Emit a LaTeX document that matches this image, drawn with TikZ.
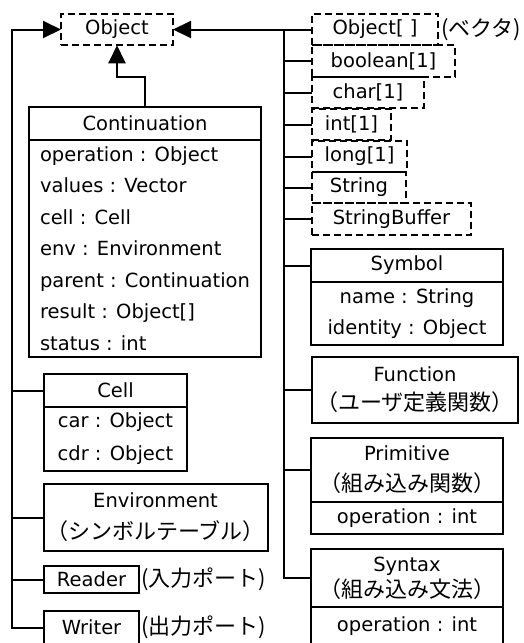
\documentclass[tikz,border=0pt]{standalone}
\usepackage{fontspec}
\setmainfont{DejaVu Sans}
\newfontfamily\jpfont{Noto Sans CJK JP}
\usetikzlibrary{arrows.meta,positioning}
\newcommand{\jp}[1]{{\jpfont\fontsize{22pt}{26pt}\selectfont #1}}

\begin{document}
\begin{tikzpicture}[x=1pt, y=-1pt,
    every node/.style={font=\fontsize{19.5pt}{31.5pt}\selectfont, inner sep=0pt, outer sep=0pt},
    box/.style={draw, line width=2pt, align=center},
    vecbox/.style={draw, dash pattern=on 7pt off 4pt, line width=2pt, minimum height=31.5pt, anchor=west},
    bus/.style={line width=2pt},
    arrow/.style={line width=2pt, -{Triangle[length=18pt, width=17pt]}}]

    \useasboundingbox (0,0) rectangle (524,643);
    \clip (0,0) rectangle (524,643);

    % Root
    \node[vecbox, anchor=center, minimum width=112pt] (obj) at (117,29.5) {Object};

    % Continuation
    \node[box, minimum width=232pt, minimum height=33pt] (cont) at (145,123.5) {Continuation};
    \node[box, below=0pt of cont, align=left, minimum width=232pt, minimum height=217pt] (conta)
        {operation : Object\\ values : Vector\\ cell : Cell\\ env : Environment\\
         parent : Continuation\\ result : Object[]\\ status : int};

    % Left column
    \node[box, minimum width=143pt, minimum height=33pt] (cell) at (115.5,390.5) {Cell};
    \node[box, below=0pt of cell, minimum width=143pt, minimum height=64pt,
        font=\fontsize{19.5pt}{33pt}\selectfont] (cella) {car : Object\\ cdr : Object};
    \node[box, minimum width=224pt, minimum height=67pt, font=\fontsize{19.5pt}{32pt}\selectfont]
        (env) at (155.5,517.5) {Environment\\ \jp{（シンボルテーブル）}};
    \node[box, minimum width=95pt, minimum height=27pt] (rd) at (91.5,579.5) {Reader};
    \node[right=2pt of rd] (rdnote) {\jp{(入力ポート)}};
    \node[box, minimum width=95pt, minimum height=33pt] (wr) at (91.5,627.5) {Writer};
    \node[right=2pt of wr] (wrnote) {\jp{(出力ポート)}};

    % Vectors and strings
    \node[vecbox, minimum width=126pt] (arr) at (312,29.5) {Object[ ]};
    \node[right=3pt of arr] (arrnote) {\jp{(ベクタ)}};
    \node[vecbox, minimum width=143pt] (bool) at (312,61) {boolean[1]};
    \node[vecbox, minimum width=112pt] (chr) at (312,92.5) {char[1]};
    \node[vecbox, minimum width=79pt] (vint) at (312,124.5) {int[1]};
    \node[vecbox, minimum width=95pt] (lng) at (312,156.5) {long[1]};
    \node[vecbox, minimum width=94pt] (str) at (312,187.5) {String};
    \node[vecbox, minimum width=159pt] (sbuf) at (312,219) {StringBuffer};

    % Right column
    \node[box, minimum width=192pt, minimum height=33pt] (sym) at (407,265.5) {Symbol};
    \node[box, below=0pt of sym, minimum width=192pt, minimum height=63pt] (syma)
        {name : String\\ identity : Object};
    \node[box, minimum width=206pt, minimum height=66pt, font=\fontsize{19.5pt}{29pt}\selectfont]
        (fun) at (415,390) {Function\\ \jp{（ユーザ定義関数）}};
    \node[box, minimum width=192pt, minimum height=64pt, font=\fontsize{19.5pt}{31pt}\selectfont]
        (prim) at (407,470) {Primitive\\ \jp{（組み込み関数）}};
    \node[box, below=0pt of prim, minimum width=192pt, minimum height=32pt] (prima) {operation : int};
    \node[box, minimum width=192pt, minimum height=58pt, font=\fontsize{19.5pt}{26pt}\selectfont]
        (syn) at (407,578) {Syntax\\ \jp{（組み込み文法）}};
    \node[box, below=0pt of syn, minimum width=192pt, minimum height=39pt] (syna) {operation : int};

    % Buses
    \coordinate (lbus) at (12,29.5);
    \coordinate (rbus) at (284,29.5);

    % Arrows
    \draw[arrow] (cont.north) -- ++(0,-30) -| (obj.south);
    \draw[arrow] (wr.west) -| (lbus) -- (obj.west);
    \draw[arrow] (arr.west) -- (obj.east);
    \draw[bus] (arr.west -| rbus) |- (syn.west);
    \foreach \n in {cell,env,rd}
        \draw[bus] (\n.west) -- (\n.west -| lbus);
    \foreach \n in {bool,chr,vint,lng,str,sbuf,sym,fun,prim}
        \draw[bus] (\n.west) -- (\n.west -| rbus);

\end{tikzpicture}
\end{document}
